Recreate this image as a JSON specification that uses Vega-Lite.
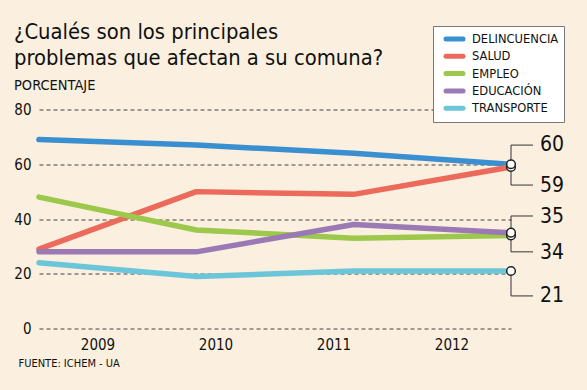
{
  "$schema": "https://vega.github.io/schema/vega-lite/v6.json",
  "width": 472,
  "height": 219,
  "autosize": "none",
  "padding": {"left": 39, "top": 109.5, "right": 76, "bottom": 61.5},
  "background": "#FBF0DF",
  "title": {
    "text": ["¿Cualés son los principales", "problemas que afectan a su comuna?"],
    "subtitle": "PORCENTAJE",
    "anchor": "start",
    "frame": "group",
    "dx": -25,
    "dy": 79,
    "offset": 12,
    "font": "DejaVu Sans Condensed",
    "fontSize": 21.8,
    "fontWeight": "normal",
    "lineHeight": 26,
    "color": "#111111",
    "subtitleFont": "DejaVu Sans Condensed",
    "subtitleFontSize": 14.5,
    "subtitleColor": "#111111",
    "subtitlePadding": 9
  },
  "config": {
    "view": {"stroke": null},
    "font": "DejaVu Sans Condensed"
  },
  "datasets": {
    "series": [
      {"serie": "DELINCUENCIA", "year": 2009, "value": 69},
      {"serie": "DELINCUENCIA", "year": 2010, "value": 67},
      {"serie": "DELINCUENCIA", "year": 2011, "value": 64},
      {"serie": "DELINCUENCIA", "year": 2012, "value": 60},
      {"serie": "SALUD", "year": 2009, "value": 29},
      {"serie": "SALUD", "year": 2010, "value": 50},
      {"serie": "SALUD", "year": 2011, "value": 49},
      {"serie": "SALUD", "year": 2012, "value": 59},
      {"serie": "EMPLEO", "year": 2009, "value": 48},
      {"serie": "EMPLEO", "year": 2010, "value": 36},
      {"serie": "EMPLEO", "year": 2011, "value": 33},
      {"serie": "EMPLEO", "year": 2012, "value": 34},
      {"serie": "EDUCACIÓN", "year": 2009, "value": 28},
      {"serie": "EDUCACIÓN", "year": 2010, "value": 28},
      {"serie": "EDUCACIÓN", "year": 2011, "value": 38},
      {"serie": "EDUCACIÓN", "year": 2012, "value": 35},
      {"serie": "TRANSPORTE", "year": 2009, "value": 24},
      {"serie": "TRANSPORTE", "year": 2010, "value": 19},
      {"serie": "TRANSPORTE", "year": 2011, "value": 21},
      {"serie": "TRANSPORTE", "year": 2012, "value": 21}
    ],
    "ends": [
      {"serie": "SALUD", "year": 2012, "value": 59},
      {"serie": "DELINCUENCIA", "year": 2012, "value": 60},
      {"serie": "EMPLEO", "year": 2012, "value": 34},
      {"serie": "EDUCACIÓN", "year": 2012, "value": 35},
      {"serie": "TRANSPORTE", "year": 2012, "value": 21}
    ],
    "brackets": [
      {"x": 2012, "x2": 2012, "y": 67, "y2": 52.4},
      {"x": 2012, "x2": 2012.14, "y": 67, "y2": 67},
      {"x": 2012, "x2": 2012.14, "y": 52.4, "y2": 52.4},
      {"x": 2012, "x2": 2012, "y": 41.1, "y2": 28},
      {"x": 2012, "x2": 2012.14, "y": 41.1, "y2": 41.1},
      {"x": 2012, "x2": 2012.14, "y": 28, "y2": 28},
      {"x": 2012, "x2": 2012, "y": 21, "y2": 11.9},
      {"x": 2012, "x2": 2012.14, "y": 11.9, "y2": 11.9}
    ],
    "labels": [
      {"label": "60", "x": 2012.185, "y": 67},
      {"label": "59", "x": 2012.185, "y": 52},
      {"label": "35", "x": 2012.185, "y": 40.8},
      {"label": "34", "x": 2012.185, "y": 27.7},
      {"label": "21", "x": 2012.185, "y": 11.7}
    ],
    "years": [
      {"yr": "2009"}, {"yr": "2010"}, {"yr": "2011"}, {"yr": "2012"}
    ]
  },
  "layer": [
    {
      "data": {"name": "years"},
      "mark": {"type": "text", "text": ""},
      "encoding": {
        "x": {
          "field": "yr",
          "type": "ordinal",
          "scale": {"type": "band", "paddingInner": 0, "paddingOuter": 0},
          "axis": {
            "orient": "bottom",
            "domain": false,
            "ticks": false,
            "labelAngle": 0,
            "labelFontSize": 15,
            "labelColor": "#111111",
            "labelPadding": 9,
            "title": "FUENTE: ICHEM - UA",
            "titleFontSize": 11,
            "titleFontWeight": "normal",
            "titleColor": "#111111",
            "titleAnchor": "start",
            "titleAlign": "left",
            "titleBaseline": "alphabetic",
            "titleX": -21,
            "titleY": 38
          }
        }
      }
    },
    {
      "layer": [
        {
          "data": {"name": "series"},
          "mark": {"type": "line", "strokeWidth": 5.5, "strokeCap": "round", "strokeJoin": "round"},
          "encoding": {
            "x": {"field": "year", "type": "quantitative", "scale": {"domain": [2009, 2012], "nice": false, "zero": false}, "axis": null},
            "y": {
              "field": "value",
              "type": "quantitative",
              "scale": {"domain": [0, 80], "nice": false},
              "axis": {
                "values": [0, 20, 40, 60, 80],
                "title": null,
                "domain": false,
                "ticks": false,
                "labelFontSize": 15,
                "labelColor": "#111111",
                "labelPadding": 8,
                "grid": true,
                "gridDash": [4, 3],
                "gridColor": "#444444",
                "gridWidth": 1
              }
            },
            "color": {
              "field": "serie",
              "type": "nominal",
              "scale": {
                "domain": ["DELINCUENCIA", "SALUD", "EMPLEO", "EDUCACIÓN", "TRANSPORTE"],
                "range": ["#3A8FD0", "#EC6A5B", "#9CC84B", "#9B79B5", "#6CC6D9"]
              },
              "legend": {
                "orient": "none",
                "legendX": 394,
                "legendY": -83.5,
                "title": null,
                "fillColor": "#FFFFFF",
                "strokeColor": "#777777",
                "padding": 5.5,
                "symbolType": "stroke",
                "symbolStrokeWidth": 5,
                "symbolSize": 289,
                "symbolOffset": 5,
                "clipHeight": 15,
                "labelFontSize": 12.8,
                "labelColor": "#111111",
                "labelOffset": 6.5,
                "rowPadding": 2.3,
                "encode": {"symbols": {"update": {"strokeCap": {"value": "round"}}}}
              }
            },
            "order": {"field": "year", "type": "quantitative"}
          }
        },
        {
          "data": {"name": "brackets"},
          "mark": {"type": "rule", "color": "#333333", "strokeWidth": 1},
          "encoding": {
            "x": {"field": "x", "type": "quantitative", "scale": {"domain": [2009, 2012], "nice": false, "zero": false}, "axis": null},
            "x2": {"field": "x2"},
            "y": {"field": "y", "type": "quantitative"},
            "y2": {"field": "y2"}
          }
        },
        {
          "data": {"name": "ends"},
          "mark": {"type": "point", "filled": true, "fill": "#FFFFFF", "stroke": "#222222", "strokeWidth": 1.5, "size": 75, "opacity": 1},
          "encoding": {
            "x": {"field": "year", "type": "quantitative", "scale": {"domain": [2009, 2012], "nice": false, "zero": false}, "axis": null},
            "y": {"field": "value", "type": "quantitative"}
          }
        },
        {
          "data": {"name": "labels"},
          "mark": {"type": "text", "align": "left", "baseline": "middle", "fontSize": 21, "color": "#111111"},
          "encoding": {
            "x": {"field": "x", "type": "quantitative", "scale": {"domain": [2009, 2012], "nice": false, "zero": false}, "axis": null},
            "y": {"field": "y", "type": "quantitative"},
            "text": {"field": "label"}
          }
        }
      ]
    }
  ],
  "resolve": {"scale": {"x": "independent"}}
}
